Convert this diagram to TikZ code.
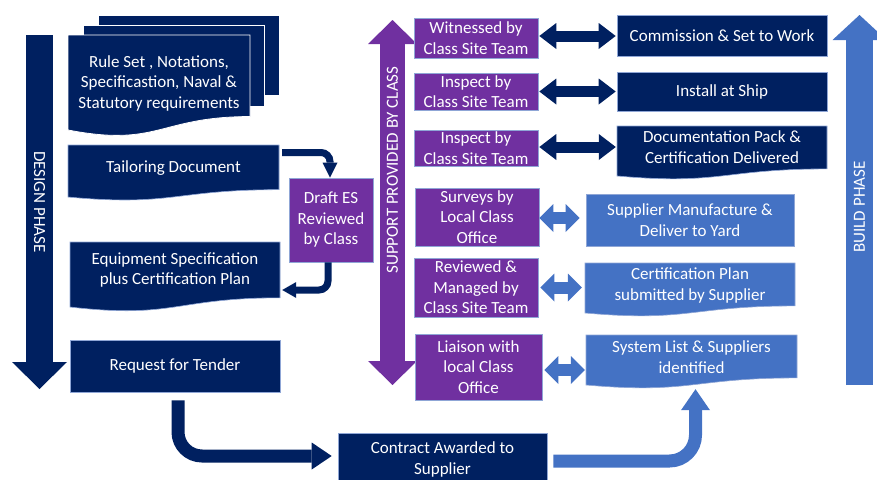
\documentclass[tikz,border=0pt]{standalone}
\usepackage{fontspec}
\setmainfont{Carlito}
\usetikzlibrary{arrows.meta,calc}
\definecolor{navy}{HTML}{002060}
\definecolor{plum}{HTML}{7030A0}
\definecolor{steel}{HTML}{4472C4}
\definecolor{edge}{HTML}{8FA6D6}

% document shape with a wavy bottom: style, x0, y0, x1, full height
\newcommand{\docshape}[5]{%
  \path[#1] (#2,#3) -- (#4,#3) -- (#4,{#3+0.802*#5})
    .. controls ({(#2+#4)/2},{#3+0.802*#5}) and ({(#2+#4)/2},{#3+1.107*#5}) ..
    (#2,{#3+0.934*#5}) -- cycle;}

\tikzset{
  box/.style={draw=edge,line width=0.6pt,text=white,align=center,inner sep=0pt},
  navybox/.style={box,fill=navy},
  plumbox/.style={box,fill=plum},
  steelbox/.style={box,fill=steel},
  doctext/.style={text=white,align=center,inner sep=0pt},
  phaselabel/.style={text=white,inner sep=0pt},
  navytwoway/.style={navy,line width=11pt,
    {Triangle[width=26pt,length=17pt,line width=0pt]}-{Triangle[width=26pt,length=17pt,line width=0pt]}},
  steeltwoway/.style={steel,line width=12pt,
    {Triangle[width=28pt,length=14pt,line width=0pt]}-{Triangle[width=28pt,length=14pt,line width=0pt]}},
}

\begin{document}
\begin{tikzpicture}[x=1pt,y=-1pt,font=\fontsize{17}{20.5}\selectfont]
\useasboundingbox (0,0) rectangle (877,479);
\clip (0,0) rectangle (877,479);

% ---------- design phase ----------
\coordinate (dtop) at (39.5,35);
\coordinate (dbot) at (39.5,389);
\draw[navy,line width=27pt,-{Triangle[width=55pt,length=27pt,line width=0pt]}] (dtop) -- (dbot);
\node[phaselabel,rotate=-90] (dlabel) at (39.5,202) {DESIGN PHASE};

% stacked requirement documents
\path[fill=navy,draw=white,line width=0.8pt] (98,15) rectangle (279,95);
\path[fill=navy,draw=white,line width=0.8pt] (83,25) rectangle (264,106);
\docshape{fill=navy,draw=white,line width=0.8pt}{68}{35}{250}{101.7}
\node[doctext] (rules) at (159,83) {Rule Set , Notations,\\Specificastion, Naval \&\\Statutory requirements};

\docshape{fill=navy,draw=edge,line width=0.6pt}{68}{145}{279}{55.7}
\node[doctext,minimum width=211pt,minimum height=46pt] (tail) at (173.5,168) {Tailoring Document};

\docshape{fill=navy,draw=edge,line width=0.6pt}{70}{242}{280}{69.6}
\node[doctext,minimum width=210pt,minimum height=56pt] (eqs) at (175,270) {Equipment Specification\\plus Certification Plan};

\node[navybox,minimum width=210pt,minimum height=52pt] (rft) at (175,366) {Request for Tender};

\node[plumbox,minimum width=84pt,minimum height=84pt] (draft) at (331,220) {Draft ES\\Reviewed\\by Class};

\node[navybox,minimum width=209pt,minimum height=53pt] (con) at (442.5,459.5) {Contract Awarded to\\Supplier};

% ---------- support provided by class ----------
\coordinate (stop) at (392.5,20);
\coordinate (sbot) at (392.5,385);
\draw[plum,line width=25pt,
  {Triangle[width=49pt,length=24pt,line width=0pt]}-{Triangle[width=49pt,length=24pt,line width=0pt]}] (stop) -- (sbot);
\node[phaselabel,rotate=90] (slabel) at (392.5,170) {SUPPORT PROVIDED BY CLASS};

\node[plumbox,minimum width=124pt,minimum height=40pt] (wit) at (476,38) {Witnessed by\\Class Site Team};
\node[plumbox,minimum width=124pt,minimum height=37pt] (ins1) at (476,91.5) {Inspect by\\Class Site Team};
\node[plumbox,minimum width=124pt,minimum height=36pt] (ins2) at (476,148) {Inspect by\\Class Site Team};
\node[plumbox,minimum width=124pt,minimum height=58pt] (sur) at (477,217) {Surveys by\\Local Class\\Office};
\node[plumbox,minimum width=124pt,minimum height=59pt] (rev) at (476,287.5) {Reviewed \&\\Managed by\\Class Site Team};
\node[plumbox,minimum width=127pt,minimum height=66pt] (lia) at (478.5,367) {Liaison with\\local Class\\Office};

% ---------- build side ----------
\node[navybox,minimum width=210pt,minimum height=41pt] (com) at (722,35.5) {Commission \& Set to Work};
\node[navybox,minimum width=210pt,minimum height=39pt] (inst) at (722,91.5) {Install at Ship};
\docshape{fill=navy,draw=edge,line width=0.6pt}{617}{126}{827}{53.5}
\node[doctext,minimum width=210pt,minimum height=42pt] (dpk) at (722,147) {Documentation Pack \&\\Certification Delivered};

\node[steelbox,minimum width=208pt,minimum height=52pt] (supm) at (690,220) {Supplier Manufacture \&\\Deliver to Yard};
\docshape{fill=steel,draw=edge,line width=0.6pt}{585}{263}{795}{53.5}
\node[doctext,minimum width=210pt,minimum height=45pt] (cpl) at (690,285.5) {Certification Plan\\submitted by Supplier};
\docshape{fill=steel,draw=edge,line width=0.6pt}{586}{335}{797}{53.5}
\node[doctext,minimum width=211pt,minimum height=44pt] (sys) at (691.5,357) {System List \& Suppliers\\identified};

\coordinate (btop) at (859.5,15);
\coordinate (bbot) at (859.5,385);
\draw[steel,line width=27pt,-{Triangle[width=54pt,length=25pt,line width=0pt]}] (bbot) -- (btop);
\node[phaselabel,rotate=90] (blabel) at (859.5,207) {BUILD PHASE};

% ---------- connectors ----------
\draw[navy,line width=7pt,rounded corners=9pt,-{Triangle[width=15pt,length=15pt,line width=0pt]}]
  ($(tail.east)+(3,-15.5)$) -| ($(draft.north)+(-1,0)$);
\draw[navy,line width=7pt,rounded corners=9pt,-{Triangle[width=16pt,length=14pt,line width=0pt]}]
  ($(draft.south)+(-3,0)$) |- ($(eqs.east)+(2,20)$);
\draw[navy,line width=13pt,rounded corners=24pt,-{Triangle[width=27pt,length=20pt,line width=0pt]}]
  ($(rft.south)+(3,8)$) |- ($(con.west)+(-6,-3.5)$);
\draw[steel,line width=13pt,rounded corners=26pt,-{Triangle[width=29pt,length=21pt,line width=0pt]}]
  ($(con.east)+(6,1.5)$) -| ($(sys.south)+(4,10)$);

\draw[navytwoway] ($(wit.east)+(1,-2)$) -- ($(com.west)+(-1,0.5)$);
\draw[navytwoway] ($(ins1.east)+(1,0)$) -- ($(inst.west)+(-1,0)$);
\draw[navytwoway] ($(ins2.east)+(1,-1)$) -- ($(dpk.west)+(-1,0)$);

\draw[steeltwoway] ($(sur.east)+(0,1)$) -- ($(supm.west)+(-6,-2)$);
\draw[steeltwoway] ($(rev.east)+(2,0)$) -- ($(cpl.west)+(-3,2)$);
\draw[steeltwoway] ($(lia.east)+(2,3)$) -- ($(sys.west)+(-1,13)$);
\end{tikzpicture}
\end{document}
